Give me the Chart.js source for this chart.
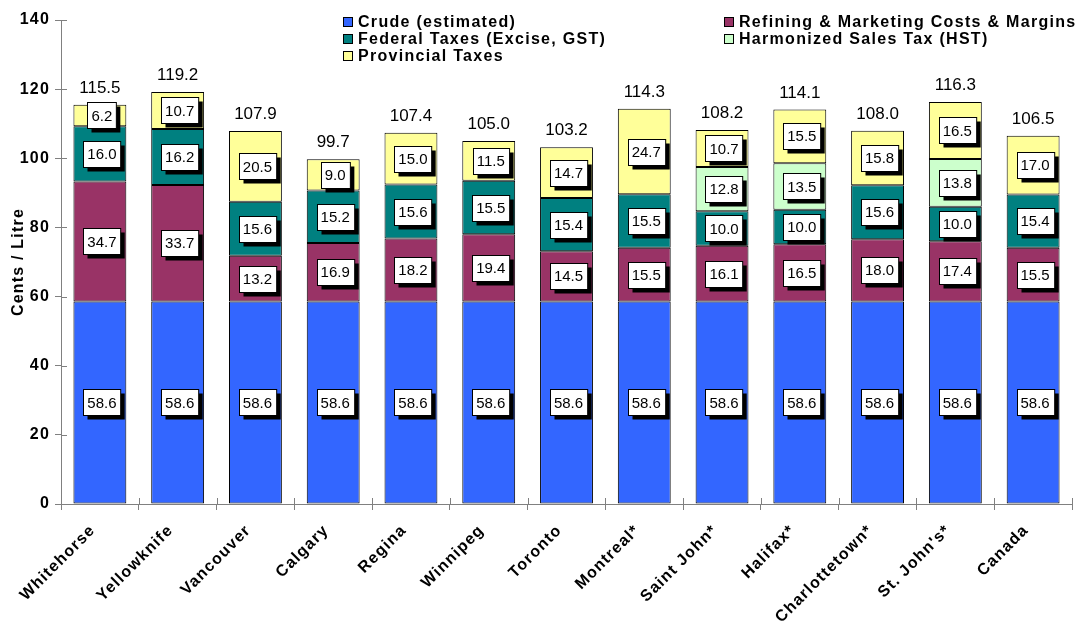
<!DOCTYPE html>
<html>
<head>
<meta charset="utf-8">
<script src="https://cdn.jsdelivr.net/npm/chart.js@4.4.1/dist/chart.umd.min.js"></script>
<style>
  html, body { margin: 0; padding: 0; background: #fff; }
  #wrap { width: 1081px; height: 624px; }
</style>
</head>
<body>
<div id="wrap"><canvas id="myChart" width="1081" height="624"></canvas></div>
<script>
const cities = ['Whitehorse', 'Yellowknife', 'Vancouver', 'Calgary', 'Regina', 'Winnipeg', 'Toronto',
    'Montreal*', 'Saint John*', 'Halifax*', 'Charlottetown*', "St. John's*", 'Canada'];

const crude = [58.6, 58.6, 58.6, 58.6, 58.6, 58.6, 58.6, 58.6, 58.6, 58.6, 58.6, 58.6, 58.6];
const refining = [34.7, 33.7, 13.2, 16.9, 18.2, 19.4, 14.5, 15.5, 16.1, 16.5, 18.0, 17.4, 15.5];
const federal = [16.0, 16.2, 15.6, 15.2, 15.6, 15.5, 15.4, 15.5, 10.0, 10.0, 15.6, 10.0, 15.4];
const hst = [0, 0, 0, 0, 0, 0, 0, 0, 12.8, 13.5, 0, 13.8, 0];
const provincial = [6.2, 10.7, 20.5, 9.0, 15.0, 11.5, 14.7, 24.7, 10.7, 15.5, 15.8, 16.5, 17.0];
const totals = [115.5, 119.2, 107.9, 99.7, 107.4, 105.0, 103.2, 114.3, 108.2, 114.1, 108.0, 116.3, 106.5];

const FONT = 'Arial, "Liberation Sans", sans-serif';

// the bold texts of the original are spaced out a bit
const spacing = {
    id: 'spacing',
    beforeDraw(chart) {
        chart.ctx.letterSpacing = '1.2px';
    }
};

// white value boxes with a black drop shadow, plus totals above bars
const boxLabels = {
    id: 'boxLabels',
    afterDatasetsDraw(chart) {
        const ctx = chart.ctx;
        ctx.save();
        ctx.letterSpacing = '0px';
        ctx.font = '15px ' + FONT;
        ctx.textAlign = 'center';
        ctx.textBaseline = 'middle';
        chart.data.datasets.forEach((ds, i) => {
            const meta = chart.getDatasetMeta(i);
            meta.data.forEach((bar, j) => {
                const v = ds.data[j];
                if (!v) return;
                const txt = v.toFixed(1);
                const cx = bar.x + 2;
                const cy = (bar.y + bar.base) / 2;
                const w = ctx.measureText(txt).width + 8;
                const h = 26;
                const x0 = Math.round(cx - w / 2) + 0.5;
                const y0 = Math.round(cy - h / 2) + 0.5;
                ctx.fillStyle = '#000';
                ctx.fillRect(x0 + 4, y0 + 4, w, h);
                ctx.fillStyle = '#fff';
                ctx.fillRect(x0, y0, w, h);
                ctx.strokeStyle = '#000';
                ctx.lineWidth = 1;
                ctx.strokeRect(x0, y0, w, h);
                ctx.fillStyle = '#000';
                ctx.fillText(txt, cx, cy + 1);
            });
        });
        const y = chart.scales.y;
        const meta0 = chart.getDatasetMeta(0);
        ctx.font = '17px ' + FONT;
        ctx.textBaseline = 'alphabetic';
        totals.forEach((t, j) => {
            ctx.fillText(t.toFixed(1), meta0.data[j].x, y.getPixelForValue(t) - 12);
        });
        ctx.restore();
    },
    afterDraw(chart) {
        // tick marks crossing into the plot, as in the original
        const ctx = chart.ctx;
        const { x, y } = chart.scales;
        const area = chart.chartArea;
        ctx.save();
        ctx.strokeStyle = '#808080';
        ctx.lineWidth = 1;
        y.ticks.forEach(t => {
            const py = Math.round(y.getPixelForValue(t.value)) + 0.5;
            ctx.beginPath();
            ctx.moveTo(area.left, py);
            ctx.lineTo(area.left + 6, py);
            ctx.stroke();
        });
        for (let j = 0; j <= cities.length; j++) {
            const px = Math.round(area.left + j * (area.right - area.left) / cities.length) + 0.5;
            ctx.beginPath();
            ctx.moveTo(px, area.bottom - 6);
            ctx.lineTo(px, area.bottom);
            ctx.stroke();
        }

        // legend in two columns
        const items = chart.data.datasets.map(ds => ({ label: ds.label, color: ds.backgroundColor }));
        const order = [0, 2, 4, 1, 3];
        const pos = [[343, 22], [343, 39], [343, 56], [724, 22], [724, 39]];
        ctx.letterSpacing = '1.3px';
        ctx.font = 'bold 16px ' + FONT;
        ctx.textAlign = 'left';
        ctx.textBaseline = 'middle';
        order.forEach((idx, k) => {
            const [lx, ly] = pos[k];
            ctx.fillStyle = items[idx].color;
            ctx.fillRect(lx + 0.5, ly - 4.5, 9, 9);
            ctx.strokeStyle = '#000';
            ctx.strokeRect(lx + 0.5, ly - 4.5, 9, 9);
            ctx.fillStyle = '#000';
            ctx.fillText(items[idx].label, lx + 15, ly + 1);
        });
        ctx.restore();
    }
};

const mkSet = (label, data, color) => ({
    label,
    data,
    backgroundColor: color,
    borderColor: '#000',
    borderWidth: 1,
    borderSkipped: false,
    categoryPercentage: 1.0,
    barPercentage: 0.68
});

new Chart(document.getElementById('myChart'), {
    type: 'bar',
    data: {
        labels: cities,
        datasets: [
            mkSet('Crude (estimated)', crude, '#3366FF'),
            mkSet('Refining & Marketing Costs & Margins', refining, '#993366'),
            mkSet('Federal Taxes (Excise, GST)', federal, '#008080'),
            mkSet('Harmonized Sales Tax (HST)', hst, '#CCFFCC'),
            mkSet('Provincial Taxes', provincial, '#FFFF99')
        ]
    },
    options: {
        responsive: false,
        animation: false,
        layout: { padding: { top: 20, right: 9, left: 0, bottom: 0 } },
        plugins: {
            legend: { display: false },
            tooltip: { enabled: false }
        },
        scales: {
            x: {
                stacked: true,
                grid: { display: true, drawOnChartArea: false, drawTicks: true, tickLength: 6, color: '#808080' },
                border: { color: '#808080' },
                ticks: {
                    color: '#000',
                    font: { family: FONT, size: 16, weight: 'bold' },
                    minRotation: 45,
                    maxRotation: 45,
                    autoSkip: false,
                    padding: 11,
                    labelOffset: -7
                },
                afterFit(scale) { scale.height = 120; }
            },
            y: {
                stacked: true,
                min: 0,
                max: 140,
                grid: { display: true, drawOnChartArea: false, drawTicks: true, tickLength: 6, color: '#808080' },
                border: { color: '#808080' },
                ticks: {
                    stepSize: 20,
                    color: '#000',
                    font: { family: FONT, size: 16, weight: 'bold' },
                    padding: 5
                },
                title: {
                    display: true,
                    text: 'Cents / Litre',
                    color: '#000',
                    font: { family: FONT, size: 16, weight: 'bold' },
                    padding: { top: 9, bottom: 0 }
                },
                afterFit(scale) { scale.width = 61; }
            }
        }
    },
    plugins: [spacing, boxLabels]
});
</script>
</body>
</html>
